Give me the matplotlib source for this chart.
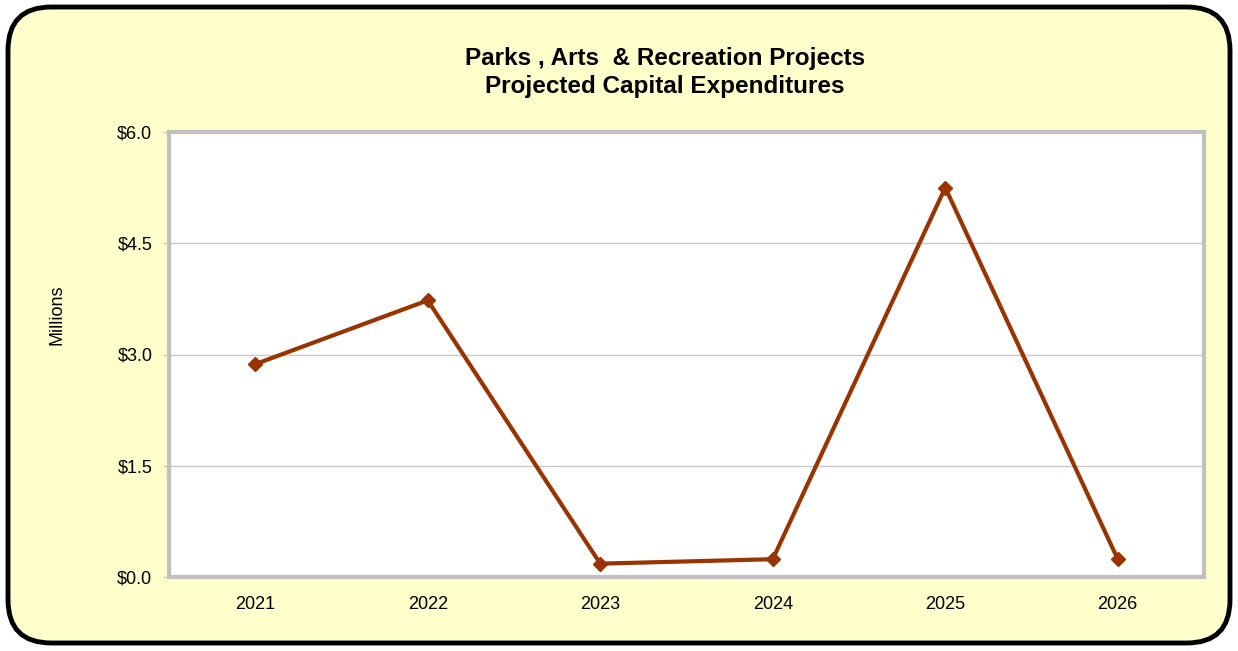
import matplotlib.pyplot as plt
from matplotlib.patches import FancyBboxPatch

years = ['2021', '2022', '2023', '2024', '2025', '2026']
spending = [2.87, 3.73, 0.18, 0.24, 5.25, 0.24]
y_ticks = [0.0, 1.5, 3.0, 4.5, 6.0]

plt.rcParams['font.family'] = ['Liberation Sans', 'DejaVu Sans']

fig = plt.figure(figsize=(12.38, 6.51), dpi=100)
fig.patch.set_facecolor('white')

# rounded yellow frame around the whole chart
frame = FancyBboxPatch((8 / 1238, 8 / 651), 1222 / 1238, 636 / 651,
                       boxstyle='round,pad=0,rounding_size=0.035',
                       transform=fig.transFigure, facecolor='#FFFFCC',
                       edgecolor='black', linewidth=3.5, mutation_aspect=1238 / 651,
                       zorder=-5)
fig.patches.append(frame)

ax = fig.add_axes([169 / 1238, 1 - 577 / 651, 1035 / 1238, 445 / 651])
ax.set_facecolor('white')

x = range(len(years))
ax.plot(x, spending, color='#993300', linewidth=3, marker='D', markersize=7,
        zorder=3)

ax.set_xlim(-0.5, len(years) - 0.5)
ax.set_ylim(0, 6)
ax.set_yticks(y_ticks)
ax.set_yticklabels(['${:.1f}'.format(v) for v in y_ticks], fontsize=13)
ax.set_xticks(list(x))
ax.set_xticklabels(years, fontsize=13)
ax.tick_params(axis='x', length=0, pad=14)
ax.tick_params(axis='y', length=4, color='#C0C0C0', pad=8)
ax.grid(axis='y', color='#C8C8C8', linewidth=1)
ax.set_axisbelow(True)

for side in ['left', 'bottom', 'top', 'right']:
    ax.spines[side].set_color('#C0C0C0')
    ax.spines[side].set_linewidth(3)

fig.text(57 / 1238, 1 - 315 / 651, 'Millions', rotation=90,
         ha='center', va='center', fontsize=13)

fig.text(0.537, 1 - 58 / 651, 'Parks , Arts  & Recreation Projects',
         ha='center', va='center', fontsize=17.5, fontweight='bold')
fig.text(0.537, 1 - 86 / 651, 'Projected Capital Expenditures',
         ha='center', va='center', fontsize=17.5, fontweight='bold')

fig.savefig('out.png', dpi=100, facecolor=fig.get_facecolor())
